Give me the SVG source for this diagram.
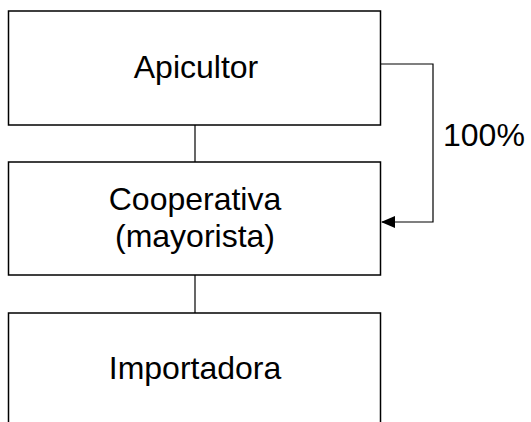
<svg xmlns="http://www.w3.org/2000/svg" width="531" height="422" viewBox="0 0 531 422">
<style>
.box{fill:#fff;stroke:#000;stroke-width:1.5}
.lbl{font-family:"Liberation Sans",Arial,sans-serif;font-size:32px;fill:#000;text-anchor:middle}
.ln{fill:none;stroke:#000;stroke-width:1.2}
</style>
<defs>
<marker id="arr" markerWidth="14" markerHeight="12" refX="13" refY="6" orient="auto" markerUnits="userSpaceOnUse">
<path d="M0,0 L14,6 L0,12 z" fill="#000"/>
</marker>
</defs>
<g id="connectors">
<line class="ln" x1="195" y1="125" x2="195" y2="162"/>
<line class="ln" x1="195" y1="275" x2="195" y2="313"/>
<polyline class="ln" points="381,64 433,64 433,222 382,222" marker-end="url(#arr)"/>
<text class="lbl" x="443" y="146" style="text-anchor:start">100%</text>
</g>
<g id="apicultor">
<rect class="box" x="8.5" y="11" width="372" height="114"/>
<text class="lbl" x="196" y="78">Apicultor</text>
</g>
<g id="cooperativa">
<rect class="box" x="8.5" y="162" width="372" height="113"/>
<text class="lbl" x="195" y="210">Cooperativa</text>
<text class="lbl" x="195" y="247">(mayorista)</text>
</g>
<g id="importadora">
<rect class="box" x="8.5" y="313" width="372" height="130"/>
<text class="lbl" x="195" y="379">Importadora</text>
</g>
</svg>
